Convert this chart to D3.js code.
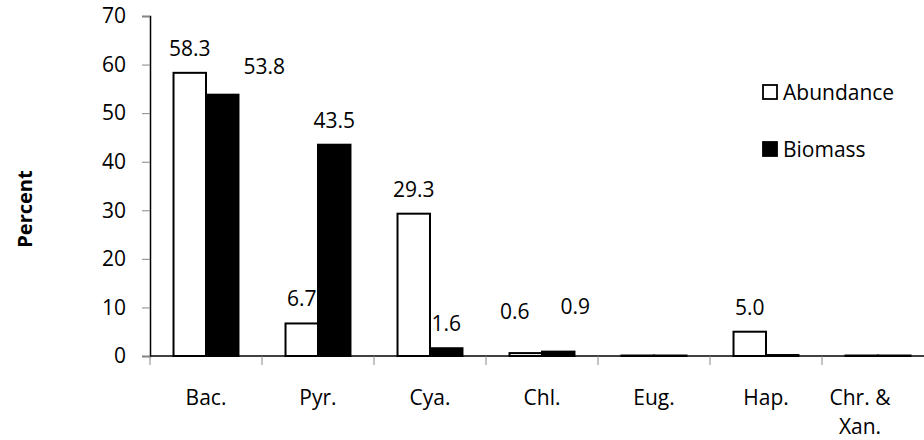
<!DOCTYPE html>
<html>
<head>
<meta charset="utf-8">
<script src="https://cdn.jsdelivr.net/npm/d3@7"></script>
<style>
  body { margin: 0; background: #fff; }
  text { font-family: "Open Sans", sans-serif; fill: #000; }
</style>
</head>
<body>
<script>
const categories = ["Bac.", "Pyr.", "Cya.", "Chl.", "Eug.", "Hap.", "Chr. & Xan."];
const seriesNames = ["Abundance", "Biomass"];
const abundance = [58.3, 6.7, 29.3, 0.6, 0.1, 5.0, 0.1];
const biomass = [53.8, 43.5, 1.6, 0.9, 0.1, 0.2, 0.1];
// labels shown in the chart (null = no label)
const abundanceLabels = ["58.3", "6.7", "29.3", "0.6", null, "5.0", null];
const biomassLabels = ["53.8", "43.5", "1.6", "0.9", null, null, null];
const yTicks = [0, 10, 20, 30, 40, 50, 60, 70];

// hand-placed label nudges, as in the original
const abundanceNudge = [[0, 0], [0, 0], [0, 0], [-11, -17], [0, 0], [0, 0], [0, 0]];
const biomassNudge = [[42, -4], [0, 0], [0, 0], [17, -21], [0, 0], [0, 0], [0, 0]];

const width = 924;
const height = 440;
const plotLeft = 150;
const plotBottom = 356;
const plotTop = 16;

const svg = d3
  .select("body")
  .append("svg")
  .attr("width", width)
  .attr("height", height);

const x0 = d3
  .scaleBand()
  .domain(categories)
  .range([plotLeft, plotLeft + 7 * 112])
  .paddingInner(0.42)
  .paddingOuter(0.21);

const x1 = d3
  .scaleBand()
  .domain(seriesNames)
  .range([0, x0.bandwidth()]);

const y = d3.scaleLinear().domain([0, 70]).range([plotBottom, plotTop]);

// y axis
const yAxis = d3.axisLeft(y).tickValues(yTicks).tickSize(8).tickPadding(16);
const gy = svg.append("g").attr("transform", `translate(${plotLeft},0)`).call(yAxis);
gy.select(".domain").attr("stroke", "#000").attr("stroke-width", 1.5);
gy.selectAll(".tick line").attr("stroke", "#868686");
gy.selectAll(".tick text")
  .style("font-size", "21px")
  .style("font-family", "Open Sans");

// bars
const rows = categories.map((c, i) => ({ c, i, vals: [abundance[i], biomass[i]] }));

const groups = svg
  .selectAll("g.grp")
  .data(rows)
  .enter()
  .append("g")
  .attr("class", "grp")
  .attr("transform", (d) => `translate(${x0(d.c)},0)`);

groups
  .selectAll("rect")
  .data((d) => d.vals.map((v, k) => ({ v, k })))
  .enter()
  .append("rect")
  .attr("x", (d) => x1(seriesNames[d.k]))
  .attr("y", (d) => y(d.v))
  .attr("width", x1.bandwidth())
  .attr("height", (d) => plotBottom - y(d.v))
  .attr("fill", (d) => (d.k === 0 ? "#fff" : "#000"))
  .attr("stroke", "#000")
  .attr("stroke-width", 2);

// x axis line and boundary ticks
svg
  .append("line")
  .attr("x1", plotLeft)
  .attr("x2", width)
  .attr("y1", plotBottom)
  .attr("y2", plotBottom)
  .attr("stroke", "#000")
  .attr("stroke-width", 1.5);

svg
  .selectAll("line.xtick")
  .data(d3.range(categories.length + 1))
  .enter()
  .append("line")
  .attr("class", "xtick")
  .attr("x1", (i) => plotLeft + i * x0.step())
  .attr("x2", (i) => plotLeft + i * x0.step())
  .attr("y1", plotBottom)
  .attr("y2", plotBottom + 9)
  .attr("stroke", "#868686");

// category labels
categories.forEach((c, i) => {
  const cx = x0(c) + x0.bandwidth() / 2;
  const lines = c.includes(" & ") ? [c.split(" & ")[0] + " &", c.split(" & ")[1]] : [c];
  const lx = lines.length > 1 ? cx - 18 : cx;
  const t = svg
    .append("text")
    .attr("x", lx)
    .attr("y", 405)
    .attr("text-anchor", "middle")
    .style("font-size", "21px");
  lines.forEach((ln, j) => {
    t.append("tspan")
      .attr("x", lx)
      .attr("dy", j === 0 ? 0 : 29)
      .text(ln);
  });
});

// value labels
function addLabels(vals, labels, nudge, k) {
  vals.forEach((v, i) => {
    if (!labels[i]) return;
    const bx = x0(categories[i]) + x1(seriesNames[k]) + x1.bandwidth() / 2;
    svg
      .append("text")
      .attr("x", bx + nudge[i][0])
      .attr("y", y(v) - 25 + nudge[i][1])
      .attr("text-anchor", "middle")
      .attr("dominant-baseline", "central")
      .style("font-size", "21px")
      .text(labels[i]);
  });
}
addLabels(abundance, abundanceLabels, abundanceNudge, 0);
addLabels(biomass, biomassLabels, biomassNudge, 1);

// y title
svg
  .append("text")
  .attr("transform", "translate(24,209) rotate(-90)")
  .attr("text-anchor", "middle")
  .attr("dominant-baseline", "central")
  .style("font-size", "20px")
  .style("font-weight", "bold")
  .text("Percent");

// legend
const legend = svg
  .selectAll("g.leg")
  .data(seriesNames)
  .enter()
  .append("g")
  .attr("class", "leg")
  .attr("transform", (d, i) => `translate(763,${85 + i * 57})`);

legend
  .append("rect")
  .attr("width", 14)
  .attr("height", 14)
  .attr("fill", (d, i) => (i === 0 ? "#fff" : "#000"))
  .attr("stroke", "#000")
  .attr("stroke-width", 1.8);

legend
  .append("text")
  .attr("x", 20)
  .attr("y", 7)
  .attr("dominant-baseline", "central")
  .style("font-size", "21px")
  .text((d) => d);
</script>
</body>
</html>
